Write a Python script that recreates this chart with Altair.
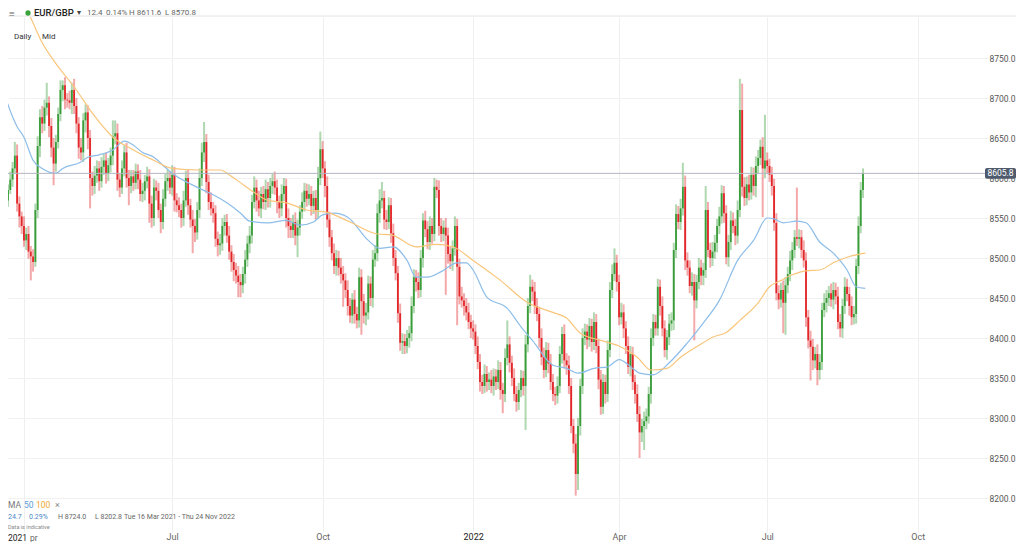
import altair as alt
import pandas as pd

FONT = "Roboto"
GREEN = "#3a9d3a"
RED = "#e2272a"
BLUE = "#8dbde9"
ORANGE = "#f9c57a"

# daily closes (x 10000), Mar 2021 .. Aug 2022, one per trading day
closes = [
    8565, 8558, 8562, 8555, 8572, 8585, 8598, 8612, 8628, 8568,
    8552, 8540, 8522, 8530, 8508, 8502, 8495, 8560, 8640, 8676,
    8668, 8688, 8694, 8665, 8638, 8618, 8645, 8680, 8710, 8716,
    8698, 8697, 8694, 8710, 8690, 8668, 8638, 8632, 8672, 8682,
    8650, 8600, 8590, 8603, 8612, 8596, 8614, 8622, 8605, 8616,
    8628, 8652, 8656, 8598, 8588, 8612, 8632, 8600, 8590, 8602,
    8594, 8608, 8598, 8580, 8584, 8596, 8602, 8568, 8550, 8588,
    8584, 8560, 8545, 8574, 8596, 8600, 8588, 8604, 8572, 8566,
    8560, 8550, 8572, 8600, 8566, 8548, 8540, 8532, 8560, 8600,
    8632, 8645, 8595, 8570, 8562, 8556, 8524, 8516, 8518, 8540,
    8545, 8528, 8508, 8495, 8485, 8478, 8470, 8466, 8480, 8498,
    8518, 8528, 8570, 8588, 8572, 8562, 8580, 8570, 8586, 8575,
    8590, 8596, 8588, 8570, 8562, 8580, 8590, 8550, 8540, 8535,
    8545, 8528, 8538, 8558, 8570, 8584, 8574, 8580, 8565, 8575,
    8560, 8600, 8636, 8612, 8590, 8548, 8526, 8506, 8490, 8500,
    8488, 8480, 8472, 8460, 8440, 8428, 8448, 8430, 8422, 8476,
    8446, 8428, 8432, 8468, 8450, 8498, 8506, 8556, 8572, 8575,
    8548, 8545, 8566, 8531, 8500, 8481, 8431, 8394, 8396, 8390,
    8400, 8406, 8440, 8476, 8470, 8460, 8500, 8547, 8536, 8520,
    8540, 8530, 8589, 8585, 8540, 8530, 8538, 8528, 8505, 8496,
    8512, 8540, 8489, 8452, 8447, 8440, 8432, 8420, 8412, 8408,
    8390, 8370, 8345, 8340, 8355, 8345, 8348, 8340, 8352, 8345,
    8360, 8335, 8330, 8375, 8392, 8369, 8350, 8330, 8320, 8335,
    8350, 8340, 8392, 8440, 8464, 8458, 8440, 8430, 8400, 8376,
    8360, 8385, 8368, 8345, 8330, 8328, 8340, 8380, 8405, 8372,
    8366, 8340, 8290, 8268, 8230, 8290, 8340, 8400, 8408, 8398,
    8415, 8395, 8420, 8390, 8348, 8314, 8345, 8330, 8385, 8460,
    8480, 8494, 8470, 8426, 8432, 8412, 8390, 8364, 8380, 8345,
    8330, 8305, 8282, 8290, 8296, 8302, 8330, 8400, 8420, 8412,
    8464, 8440, 8412, 8385, 8401, 8418, 8422, 8510, 8555, 8545,
    8562, 8589, 8497, 8488, 8465, 8470, 8447, 8470, 8488, 8478,
    8485, 8560, 8510, 8500, 8508, 8519, 8540, 8552, 8581, 8556,
    8501, 8520, 8547, 8540, 8528, 8560, 8685, 8589, 8575, 8592,
    8582, 8604, 8590, 8615, 8625, 8639, 8612, 8622, 8615, 8604,
    8590, 8544, 8456, 8448, 8460, 8444, 8466, 8480, 8497, 8510,
    8526, 8524, 8526, 8510, 8497, 8426, 8397, 8389, 8372, 8380,
    8360, 8370, 8435, 8444, 8450, 8456, 8448, 8460, 8452, 8420,
    8412, 8440, 8464, 8455, 8440, 8426, 8430, 8490, 8540, 8585,
    8606,
]
first_open = 8560

# wick length above / below each candle body
wick_hi = [
    8, 10, 6, 12, 9, 7, 10, 8, 17, 14,
    9, 6, 12, 8, 10, 7, 9, 8, 12, 10,
    14, 10, 25, 8, 10, 12, 9, 8, 12, 6,
    10, 8, 12, 9, 14, 10, 8, 12, 9, 10,
    9, 10, 8, 12, 10, 9, 12, 8, 10, 9,
    10, 20, 16, 12, 8, 10, 9, 12, 10, 8,
    8, 10, 9, 12, 10, 8, 12, 9, 10, 11,
    9, 10, 8, 12, 9, 10, 8, 12, 10, 9,
    10, 8, 12, 9, 10, 8, 12, 9, 10, 12,
    12, 25, 10, 9, 12, 8, 10, 9, 12, 10,
    9, 10, 12, 8, 10, 9, 12, 10, 9, 12,
    10, 12, 9, 14, 10, 12, 9, 10, 12, 9,
    10, 9, 12, 10, 8, 12, 10, 9, 12, 10,
    9, 12, 10, 8, 12, 10, 9, 12, 10, 9,
    10, 14, 22, 10, 9, 12, 10, 9, 12, 10,
    9, 12, 10, 9, 12, 10, 8, 12, 9, 12,
    10, 9, 12, 10, 9, 12, 10, 12, 14, 20,
    9, 12, 10, 9, 12, 10, 9, 12, 10, 9,
    10, 9, 12, 10, 9, 12, 10, 9, 12, 10,
    12, 10, 11, 9, 12, 10, 9, 12, 10, 9,
    10, 12, 9, 10, 12, 9, 10, 12, 9, 10,
    9, 12, 10, 9, 12, 10, 9, 12, 10, 9,
    12, 10, 9, 12, 30, 10, 9, 12, 10, 9,
    10, 9, 12, 10, 15, 9, 12, 10, 9, 12,
    12, 10, 9, 12, 10, 9, 12, 10, 9, 12,
    9, 12, 10, 9, 12, 10, 9, 12, 10, 9,
    10, 9, 12, 10, 9, 12, 10, 9, 12, 10,
    12, 18, 10, 9, 12, 10, 9, 12, 10, 9,
    9, 12, 10, 9, 12, 10, 9, 12, 10, 9,
    10, 9, 12, 10, 9, 12, 10, 9, 12, 10,
    12, 30, 14, 10, 9, 12, 10, 9, 12, 10,
    9, 30, 10, 9, 12, 10, 9, 12, 10, 9,
    10, 9, 12, 10, 9, 12, 39, 33, 12, 10,
    12, 10, 9, 12, 10, 9, 12, 57, 10, 9,
    10, 9, 12, 10, 9, 12, 10, 9, 12, 10,
    9, 62, 10, 9, 12, 10, 9, 12, 10, 9,
    12, 10, 9, 12, 10, 9, 12, 10, 9, 12,
    10, 9, 12, 10, 9, 12, 10, 9, 12, 10,
    6,
]
wick_lo = [
    12, 23, 8, 10, 6, 8, 5, 9, 7, 10,
    14, 10, 8, 12, 9, 30, 12, 6, 10, 14,
    12, 9, 10, 14, 12, 27, 10, 8, 9, 14,
    12, 9, 8, 14, 10, 12, 14, 10, 12, 15,
    14, 38, 12, 10, 9, 12, 8, 10, 12, 9,
    9, 12, 10, 14, 12, 8, 10, 12, 24, 9,
    10, 8, 12, 9, 10, 12, 9, 24, 12, 10,
    12, 10, 14, 9, 10, 12, 8, 10, 14, 9,
    9, 12, 10, 8, 12, 10, 34, 12, 9, 10,
    10, 12, 14, 10, 9, 12, 10, 14, 12, 9,
    12, 9, 10, 12, 14, 10, 19, 15, 10, 12,
    9, 12, 10, 8, 14, 10, 12, 9, 10, 12,
    12, 10, 9, 14, 12, 10, 9, 12, 15, 10,
    10, 12, 27, 10, 9, 12, 10, 8, 12, 10,
    12, 10, 9, 12, 14, 10, 12, 9, 10, 12,
    10, 12, 33, 10, 12, 9, 10, 12, 10, 9,
    42, 10, 12, 9, 10, 12, 9, 10, 12, 10,
    12, 10, 9, 12, 10, 9, 12, 10, 14, 10,
    9, 12, 10, 9, 12, 10, 9, 12, 10, 9,
    10, 12, 9, 10, 12, 10, 9, 74, 12, 10,
    12, 9, 73, 10, 9, 12, 10, 9, 12, 10,
    10, 9, 12, 10, 9, 12, 10, 9, 12, 10,
    9, 12, 24, 10, 9, 12, 10, 9, 12, 10,
    9, 12, 55, 10, 9, 12, 10, 9, 12, 10,
    10, 9, 12, 10, 9, 12, 10, 9, 12, 10,
    12, 10, 9, 12, 27, 20, 12, 10, 9, 12,
    9, 12, 10, 9, 12, 10, 9, 12, 10, 9,
    10, 9, 12, 10, 9, 12, 10, 9, 12, 10,
    12, 10, 32, 12, 30, 10, 9, 12, 10, 9,
    9, 12, 10, 9, 12, 10, 9, 12, 10, 9,
    10, 9, 12, 10, 9, 12, 50, 10, 9, 12,
    12, 10, 9, 12, 10, 9, 12, 10, 9, 12,
    9, 12, 10, 9, 12, 10, 9, 12, 10, 9,
    10, 9, 12, 14, 10, 9, 61, 12, 10, 9,
    12, 10, 9, 12, 10, 38, 40, 10, 9, 12,
    10, 9, 12, 10, 9, 12, 10, 42, 12, 10,
    19, 12, 10, 9, 12, 10, 9, 12, 10, 9,
    11, 12, 10, 9, 12, 10, 9, 12, 10, 9,
    10,
]

# moving averages (candle index, value)
ma50_idx = [2, 9, 12, 16, 20, 26, 29, 37, 40, 45, 51, 56, 60, 64, 69, 73, 77, 84, 89, 95,
            101, 107, 111, 119, 127, 133, 139, 143, 148, 154, 163, 168, 174, 180, 184, 189, 195, 202, 206, 209,
            215, 224, 230, 235, 244, 250, 255, 262, 268, 273, 279, 282, 288, 295, 303, 310, 317, 325, 332, 338,
            341, 345, 351, 355, 361, 367, 373, 377, 381]
ma50_val = [8716, 8664, 8651, 8622, 8612, 8606, 8612, 8620, 8626, 8629, 8635, 8646, 8641, 8632, 8626, 8616, 8606, 8594, 8587, 8579,
            8569, 8556, 8546, 8544, 8547, 8541, 8545, 8554, 8556, 8551, 8522, 8512, 8514, 8497, 8476, 8476, 8483, 8494, 8494, 8485,
            8451, 8437, 8414, 8397, 8366, 8362, 8356, 8362, 8364, 8373, 8362, 8356, 8354, 8369, 8394, 8419, 8447, 8497, 8522, 8550,
            8549, 8544, 8546, 8544, 8520, 8506, 8485, 8464, 8462]
ma100_idx = [11, 15, 20, 25, 35, 42, 51, 60, 69, 77, 89, 98, 104, 113, 119, 127, 136, 145, 155, 167, 173,
             184, 193, 200, 209, 221, 233, 244, 250, 256, 265, 273, 281, 287, 294, 300, 307, 314, 320, 326, 334,
             339, 344, 349, 355, 361, 367, 373, 381]
ma100_val = [8822, 8800, 8769, 8747, 8710, 8681, 8651, 8635, 8622, 8612, 8610, 8610, 8600, 8582, 8572, 8569, 8560, 8557, 8545, 8530, 8529,
             8514, 8517, 8514, 8497, 8472, 8444, 8432, 8425, 8406, 8397, 8390, 8376, 8360, 8362, 8376, 8389, 8401, 8407, 8422, 8444,
             8464, 8472, 8479, 8484, 8485, 8494, 8501, 8506]

month_idx = [12, 77, 143, 209, 273, 338, 404]
month_lbl = ["", "Jul", "Oct", "2022", "Apr", "Jul", "Oct"]
price_ticks = [8200, 8250, 8300, 8350, 8400, 8450, 8500, 8550, 8600, 8650, 8700, 8750]
last_price = 8605.8

opens = [first_open] + closes[:-1]
df = pd.DataFrame({"i": list(range(len(closes))), "open": opens, "close": closes})
df["high"] = [max(o, c) + h for o, c, h in zip(opens, closes, wick_hi)]
df["low"] = [min(o, c) - l for o, c, l in zip(opens, closes, wick_lo)]

ma50 = pd.DataFrame({"i": ma50_idx, "v": ma50_val})
ma100 = pd.DataFrame({"i": ma100_idx, "v": ma100_val})
price_df = pd.DataFrame({"p": [last_price], "t": [f"{last_price:.1f}"]})

W, H = 976, 515
xs = alt.Scale(domain=[5.0, 433.07], nice=False, zero=False)
ys = alt.Scale(domain=[8157.5, 8801.25], nice=False, zero=False)

lbl_expr = ("[" + ",".join(f"'{s}'" for s in month_lbl) + "][indexof(["
            + ",".join(str(v) for v in month_idx) + "], datum.value)]")

x_axis = alt.Axis(values=month_idx, labelExpr=lbl_expr, grid=True, gridColor="#efefef",
                  domain=False, ticks=False, labelPadding=0, labelFont=FONT, labelFontSize=9,
                  labelAngle=0, title=None,
                  labelColor={"condition": {"test": "datum.value == 209", "value": "#222222"},
                              "value": "#666666"})
y_axis = alt.Axis(orient="right", values=price_ticks, format=".1f", grid=True, gridColor="#f1f1f1",
                  domain=False, tickColor="#ececec", tickSize=4, labelPadding=1, labelFont=FONT,
                  labelFontSize=8.5, labelColor="#555555", title=None)


def X(field):
    return alt.X(field, scale=xs, axis=x_axis)


def Y(field):
    return alt.Y(field, scale=ys, axis=y_axis)


color = alt.condition("datum.close >= datum.open", alt.value(GREEN), alt.value(RED))
base = alt.Chart(df)

wicks = base.mark_rule(strokeWidth=2, opacity=0.4, clip=True).encode(
    x=X("i:Q"), y=Y("low:Q"), y2="high:Q", color=color)
bodies = base.mark_rule(strokeWidth=1.8, clip=True).encode(
    x=X("i:Q"), y=Y("open:Q"), y2="close:Q", color=color)
line50 = alt.Chart(ma50).mark_line(color=BLUE, strokeWidth=1.2, interpolate="monotone", clip=True).encode(
    x=X("i:Q"), y=Y("v:Q"))
line100 = alt.Chart(ma100).mark_line(color=ORANGE, strokeWidth=1.2, interpolate="monotone", clip=True).encode(
    x=X("i:Q"), y=Y("v:Q"))

price_line = alt.Chart(price_df).mark_rule(color="#b3b7c3", strokeWidth=1).encode(
    y=Y("p:Q"), x=alt.value(0), x2=alt.value(W + 1))
price_box = alt.Chart(price_df).transform_calculate(
    top="datum.p + 6.8", bot="datum.p - 6.8"
).mark_rect(color="#4f5b6d", cornerRadius=2).encode(
    y=Y("top:Q"), y2="bot:Q", x=alt.value(W + 1), x2=alt.value(W + 32))
price_txt = alt.Chart(price_df).mark_text(color="white", fontSize=8.5, font=FONT, align="center",
                                          baseline="middle").encode(
    y=Y("p:Q"), x=alt.value(W + 16.5), text="t:N")

one = alt.Data(values=[{"a": 0}])


def label(s, x, y, size=8, color="#555555", weight="normal", align="left"):
    return alt.Chart(one).mark_text(text=s, align=align, baseline="middle", fontSize=size,
                                    color=color, fontWeight=weight, font=FONT).encode(
        x=alt.value(x), y=alt.value(y))


header_rule = alt.Chart(one).mark_rule(color="#e4e4e4").encode(
    x=alt.value(0), x2=alt.value(W + 32), y=alt.value(-1))
dot = alt.Chart(one).mark_circle(size=28, color="#3ca33c", opacity=1).encode(
    x=alt.value(20), y=alt.value(-4))

texts = [
    label("≡", 1, -3.5, size=10, color="#666666"),
    label("EUR/GBP", 26, -4, size=9.5, color="#222222", weight=500),
    label("▾", 69, -4, size=8, color="#444444"),
    label("12.4", 79, -4, color="#666666"),
    label("0.14%", 98, -4, color="#666666"),
    label("H 8611.6", 121, -4, color="#666666"),
    label("L 8570.8", 157, -4, color="#666666"),
    label("Daily", 6, 20, size=8, color="#333333"),
    label("Mid", 34, 20, size=8, color="#333333"),
    label("MA", 0, 488, size=8.5, color="#777777"),
    label("50", 16, 488, size=8.5, color="#5b9bd5"),
    label("100", 28, 488, size=8.5, color="#f0a830"),
    label("×", 47, 488, size=9, color="#888888"),
    label("24.7", 0, 500, size=7, color="#4a86c8"),
    label("0.29%", 21, 500, size=7, color="#4a86c8"),
    label("H 8724.0", 50, 500, size=7, color="#666666"),
    label("L 8202.8", 87, 500, size=7, color="#666666"),
    label("Tue 16 Mar 2021 - Thu 24 Nov 2022", 116, 500, size=7, color="#666666"),
    label("Data is indicative", 0, 510, size=5.5, color="#888888"),
    label("2021", 0, 521, size=8.5, color="#222222"),
    label("pr", 22, 521, size=8.5, color="#666666"),
]

chart = alt.layer(
    wicks, bodies, line50, line100, price_line, price_box, price_txt, header_rule, dot, *texts
).properties(
    width=W, height=H,
    padding={"left": 0, "top": 9, "right": 32, "bottom": 10},
    autosize=alt.AutoSizeParams(type="none"),
).configure_view(stroke=None)

chart.save("out.html", embed_options={"renderer": "svg", "actions": False})
